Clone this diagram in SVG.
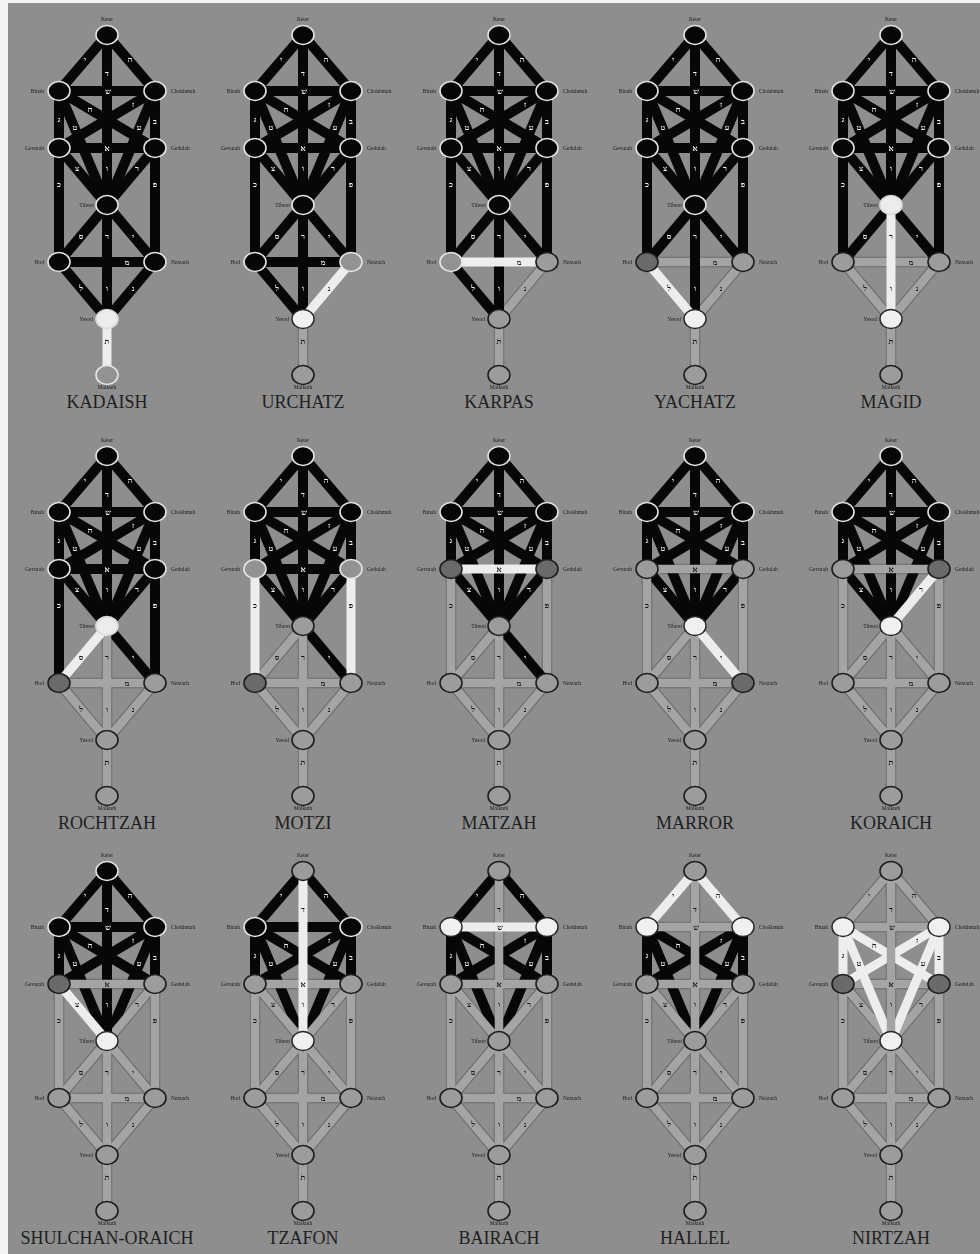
<svg xmlns="http://www.w3.org/2000/svg" xmlns:xlink="http://www.w3.org/1999/xlink" width="980" height="1254" viewBox="0 0 980 1254">
<style>
text{font-family:"Liberation Serif","DejaVu Serif",serif}
.b{stroke:#070707;stroke-width:10}
.w{stroke:#ededed;stroke-width:9}
.g{stroke:#a4a4a4;stroke-width:8.5}
.go{stroke:#6a6a6a;stroke-width:10.5}
.K{fill:#060606;stroke:#e2e2e2;stroke-width:1.6}
.W{fill:#f0f0f0;stroke:#262626;stroke-width:1.4}
.L{fill:#ececec;stroke:#d8d8d8;stroke-width:1.6}
.G{fill:#9c9c9c;stroke:#1e1e1e;stroke-width:1.6}
.D{fill:#6a6a6a;stroke:#1e1e1e;stroke-width:1.6}
.O{fill:#929292;stroke:#e6e6e6;stroke-width:1.6}
.lt{filter:grayscale(1)}
.lt text{font-family:"Liberation Serif","DejaVu Sans",serif;font-size:8px;font-weight:bold;text-anchor:middle;dominant-baseline:central}
.lw{fill:#f2f2f2}
.lb{fill:#141414}
.nl{font-size:5.5px;fill:#1c1c1c;filter:grayscale(1)}
.r{text-anchor:end}
.m{text-anchor:middle}
.ttl{font-size:18px;fill:#1f1f1f;text-anchor:middle}
</style>
<defs>
<line id="p1" x1="0" y1="0" x2="-48" y2="56"/>
<line id="p2" x1="0" y1="0" x2="48" y2="56"/>
<line id="p3" x1="0" y1="0" x2="0" y2="170"/>
<line id="p4" x1="-48" y1="56" x2="48" y2="56"/>
<line id="p5" x1="-48" y1="56" x2="-48" y2="113"/>
<line id="p6" x1="48" y1="56" x2="48" y2="113"/>
<line id="p7" x1="-48" y1="56" x2="48" y2="113"/>
<line id="p8" x1="48" y1="56" x2="-48" y2="113"/>
<line id="p9" x1="-48" y1="56" x2="0" y2="170"/>
<line id="p10" x1="48" y1="56" x2="0" y2="170"/>
<line id="p11" x1="-48" y1="113" x2="48" y2="113"/>
<line id="p12" x1="-48" y1="113" x2="0" y2="170"/>
<line id="p13" x1="48" y1="113" x2="0" y2="170"/>
<line id="p14" x1="-48" y1="113" x2="-48" y2="227"/>
<line id="p15" x1="48" y1="113" x2="48" y2="227"/>
<line id="p16" x1="0" y1="170" x2="-48" y2="227"/>
<line id="p17" x1="0" y1="170" x2="48" y2="227"/>
<line id="p18" x1="0" y1="170" x2="0" y2="284"/>
<line id="p19" x1="-48" y1="227" x2="48" y2="227"/>
<line id="p20" x1="-48" y1="227" x2="0" y2="284"/>
<line id="p21" x1="48" y1="227" x2="0" y2="284"/>
<line id="p22" x1="0" y1="284" x2="0" y2="340"/>
<ellipse id="n" cx="0" cy="0" rx="11" ry="9.5"/>
</defs>
<rect width="980" height="1254" fill="#f4f4f4"/>
<rect x="8" y="3" width="972" height="1251" fill="#8e8e8e"/>

<!-- T1 KADAISH -->
<g id="t1" transform="translate(107,35)">
<g id="t1-paths">
<use href="#p7" class="b"/><use href="#p8" class="b"/><use href="#p9" class="b"/><use href="#p10" class="b"/><use href="#p1" class="b"/><use href="#p2" class="b"/><use href="#p12" class="b"/><use href="#p13" class="b"/><use href="#p5" class="b"/><use href="#p6" class="b"/><use href="#p14" class="b"/><use href="#p15" class="b"/><use href="#p16" class="b"/><use href="#p17" class="b"/><use href="#p20" class="b"/><use href="#p21" class="b"/><use href="#p3" class="b"/><use href="#p4" class="b"/><use href="#p11" class="b"/><use href="#p19" class="b"/><use href="#p18" class="b"/><use href="#p22" class="w"/>
</g>
<g class="lt"><g class="lw"><text x="-22" y="24">י</text><text x="23" y="24">ה</text><text x="0" y="38">ד</text><text x="1" y="56">ש</text><text x="-17" y="74">ח</text><text x="26" y="69">ז</text><text x="-48" y="84">ג</text><text x="-32" y="92">ט</text><text x="32" y="92">ע</text><text x="48" y="86">ב</text><text x="0" y="113">א</text><text x="-30" y="133">צ</text><text x="30" y="133">ר</text><text x="0" y="133">ו</text><text x="-48" y="149">כ</text><text x="48" y="149">פ</text><text x="-26" y="201">ס</text><text x="26" y="201">י</text><text x="0" y="201">ר</text><text x="20" y="227">מ</text><text x="0" y="253">ו</text><text x="-26" y="253">ל</text><text x="26" y="253">נ</text></g><g class="lb"><text x="0" y="306">ת</text></g></g>
<g id="t1-keter"><use href="#n" class="K"/><text class="nl m" y="-14">Keter</text></g>
<g id="t1-binah"><use href="#n" x="-48" y="56" class="K"/><text class="nl r" x="-63" y="58">Binah</text></g>
<g id="t1-chokhmah"><use href="#n" x="48" y="56" class="K"/><text class="nl" x="64" y="58">Chokhmah</text></g>
<g id="t1-gevurah"><use href="#n" x="-48" y="113" class="K"/><text class="nl r" x="-63" y="115">Gevurah</text></g>
<g id="t1-gedulah"><use href="#n" x="48" y="113" class="K"/><text class="nl" x="64" y="115">Gedulah</text></g>
<g id="t1-tiferet"><use href="#n" y="170" class="K"/><text class="nl r" x="-13" y="172">Tiferet</text></g>
<g id="t1-hod"><use href="#n" x="-48" y="227" class="K"/><text class="nl r" x="-63" y="229">Hod</text></g>
<g id="t1-netzach"><use href="#n" x="48" y="227" class="K"/><text class="nl" x="64" y="229">Netzach</text></g>
<g id="t1-yesod"><use href="#n" y="284" class="L"/><text class="nl r" x="-14" y="286">Yesod</text></g>
<g id="t1-malkuth"><use href="#n" y="340" class="O"/><text class="nl m" y="354">Malkuth</text></g>
<text class="ttl" y="373">KADAISH</text>
</g>

<!-- T2 URCHATZ -->
<g id="t2" transform="translate(303,35)">
<g id="t2-paths">
<g class="go"><use href="#p22"/></g>
<use href="#p7" class="b"/><use href="#p8" class="b"/><use href="#p9" class="b"/><use href="#p10" class="b"/><use href="#p1" class="b"/><use href="#p2" class="b"/><use href="#p12" class="b"/><use href="#p13" class="b"/><use href="#p5" class="b"/><use href="#p6" class="b"/><use href="#p14" class="b"/><use href="#p15" class="b"/><use href="#p16" class="b"/><use href="#p17" class="b"/><use href="#p20" class="b"/><use href="#p22" class="g"/><use href="#p3" class="b"/><use href="#p4" class="b"/><use href="#p11" class="b"/><use href="#p19" class="b"/><use href="#p18" class="b"/><use href="#p21" class="w"/>
</g>
<g class="lt"><g class="lw"><text x="-22" y="24">י</text><text x="23" y="24">ה</text><text x="0" y="38">ד</text><text x="1" y="56">ש</text><text x="-17" y="74">ח</text><text x="26" y="69">ז</text><text x="-48" y="84">ג</text><text x="-32" y="92">ט</text><text x="32" y="92">ע</text><text x="48" y="86">ב</text><text x="0" y="113">א</text><text x="-30" y="133">צ</text><text x="30" y="133">ר</text><text x="0" y="133">ו</text><text x="-48" y="149">כ</text><text x="48" y="149">פ</text><text x="-26" y="201">ס</text><text x="26" y="201">י</text><text x="0" y="201">ר</text><text x="20" y="227">מ</text><text x="0" y="253">ו</text><text x="-26" y="253">ל</text></g><g class="lb"><text x="26" y="253">נ</text><text x="0" y="306">ת</text></g></g>
<g id="t2-keter"><use href="#n" class="K"/><text class="nl m" y="-14">Keter</text></g>
<g id="t2-binah"><use href="#n" x="-48" y="56" class="K"/><text class="nl r" x="-63" y="58">Binah</text></g>
<g id="t2-chokhmah"><use href="#n" x="48" y="56" class="K"/><text class="nl" x="64" y="58">Chokhmah</text></g>
<g id="t2-gevurah"><use href="#n" x="-48" y="113" class="K"/><text class="nl r" x="-63" y="115">Gevurah</text></g>
<g id="t2-gedulah"><use href="#n" x="48" y="113" class="K"/><text class="nl" x="64" y="115">Gedulah</text></g>
<g id="t2-tiferet"><use href="#n" y="170" class="K"/><text class="nl r" x="-13" y="172">Tiferet</text></g>
<g id="t2-hod"><use href="#n" x="-48" y="227" class="K"/><text class="nl r" x="-63" y="229">Hod</text></g>
<g id="t2-netzach"><use href="#n" x="48" y="227" class="O"/><text class="nl" x="64" y="229">Netzach</text></g>
<g id="t2-yesod"><use href="#n" y="284" class="W"/><text class="nl r" x="-14" y="286">Yesod</text></g>
<g id="t2-malkuth"><use href="#n" y="340" class="G"/><text class="nl m" y="354">Malkuth</text></g>
<text class="ttl" y="373">URCHATZ</text>
</g>

<!-- T3 KARPAS -->
<g id="t3" transform="translate(499,35)">
<g id="t3-paths">
<g class="go"><use href="#p21"/><use href="#p22"/></g>
<use href="#p7" class="b"/><use href="#p8" class="b"/><use href="#p9" class="b"/><use href="#p10" class="b"/><use href="#p1" class="b"/><use href="#p2" class="b"/><use href="#p12" class="b"/><use href="#p13" class="b"/><use href="#p5" class="b"/><use href="#p6" class="b"/><use href="#p14" class="b"/><use href="#p15" class="b"/><use href="#p16" class="b"/><use href="#p17" class="b"/><use href="#p20" class="b"/><use href="#p21" class="g"/><use href="#p22" class="g"/><use href="#p3" class="b"/><use href="#p4" class="b"/><use href="#p11" class="b"/><use href="#p18" class="b"/><use href="#p19" class="w"/>
</g>
<g class="lt"><g class="lw"><text x="-22" y="24">י</text><text x="23" y="24">ה</text><text x="0" y="38">ד</text><text x="1" y="56">ש</text><text x="-17" y="74">ח</text><text x="26" y="69">ז</text><text x="-48" y="84">ג</text><text x="-32" y="92">ט</text><text x="32" y="92">ע</text><text x="48" y="86">ב</text><text x="0" y="113">א</text><text x="-30" y="133">צ</text><text x="30" y="133">ר</text><text x="0" y="133">ו</text><text x="-48" y="149">כ</text><text x="48" y="149">פ</text><text x="-26" y="201">ס</text><text x="26" y="201">י</text><text x="0" y="201">ר</text><text x="0" y="253">ו</text><text x="-26" y="253">ל</text></g><g class="lb"><text x="20" y="227">מ</text><text x="26" y="253">נ</text><text x="0" y="306">ת</text></g></g>
<g id="t3-keter"><use href="#n" class="K"/><text class="nl m" y="-14">Keter</text></g>
<g id="t3-binah"><use href="#n" x="-48" y="56" class="K"/><text class="nl r" x="-63" y="58">Binah</text></g>
<g id="t3-chokhmah"><use href="#n" x="48" y="56" class="K"/><text class="nl" x="64" y="58">Chokhmah</text></g>
<g id="t3-gevurah"><use href="#n" x="-48" y="113" class="K"/><text class="nl r" x="-63" y="115">Gevurah</text></g>
<g id="t3-gedulah"><use href="#n" x="48" y="113" class="K"/><text class="nl" x="64" y="115">Gedulah</text></g>
<g id="t3-tiferet"><use href="#n" y="170" class="K"/><text class="nl r" x="-13" y="172">Tiferet</text></g>
<g id="t3-hod"><use href="#n" x="-48" y="227" class="O"/><text class="nl r" x="-63" y="229">Hod</text></g>
<g id="t3-netzach"><use href="#n" x="48" y="227" class="G"/><text class="nl" x="64" y="229">Netzach</text></g>
<g id="t3-yesod"><use href="#n" y="284" class="G"/><text class="nl r" x="-14" y="286">Yesod</text></g>
<g id="t3-malkuth"><use href="#n" y="340" class="G"/><text class="nl m" y="354">Malkuth</text></g>
<text class="ttl" y="373">KARPAS</text>
</g>

<!-- T4 YACHATZ -->
<g id="t4" transform="translate(695,35)">
<g id="t4-paths">
<g class="go"><use href="#p19"/><use href="#p21"/><use href="#p22"/></g>
<use href="#p7" class="b"/><use href="#p8" class="b"/><use href="#p9" class="b"/><use href="#p10" class="b"/><use href="#p1" class="b"/><use href="#p2" class="b"/><use href="#p12" class="b"/><use href="#p13" class="b"/><use href="#p5" class="b"/><use href="#p6" class="b"/><use href="#p14" class="b"/><use href="#p15" class="b"/><use href="#p16" class="b"/><use href="#p17" class="b"/><use href="#p21" class="g"/><use href="#p22" class="g"/><use href="#p3" class="b"/><use href="#p4" class="b"/><use href="#p11" class="b"/><use href="#p19" class="g"/><use href="#p18" class="b"/><use href="#p20" class="w"/>
</g>
<g class="lt"><g class="lw"><text x="-22" y="24">י</text><text x="23" y="24">ה</text><text x="0" y="38">ד</text><text x="1" y="56">ש</text><text x="-17" y="74">ח</text><text x="26" y="69">ז</text><text x="-48" y="84">ג</text><text x="-32" y="92">ט</text><text x="32" y="92">ע</text><text x="48" y="86">ב</text><text x="0" y="113">א</text><text x="-30" y="133">צ</text><text x="30" y="133">ר</text><text x="0" y="133">ו</text><text x="-48" y="149">כ</text><text x="48" y="149">פ</text><text x="-26" y="201">ס</text><text x="26" y="201">י</text><text x="0" y="201">ר</text><text x="0" y="253">ו</text></g><g class="lb"><text x="20" y="227">מ</text><text x="-26" y="253">ל</text><text x="26" y="253">נ</text><text x="0" y="306">ת</text></g></g>
<g id="t4-keter"><use href="#n" class="K"/><text class="nl m" y="-14">Keter</text></g>
<g id="t4-binah"><use href="#n" x="-48" y="56" class="K"/><text class="nl r" x="-63" y="58">Binah</text></g>
<g id="t4-chokhmah"><use href="#n" x="48" y="56" class="K"/><text class="nl" x="64" y="58">Chokhmah</text></g>
<g id="t4-gevurah"><use href="#n" x="-48" y="113" class="K"/><text class="nl r" x="-63" y="115">Gevurah</text></g>
<g id="t4-gedulah"><use href="#n" x="48" y="113" class="K"/><text class="nl" x="64" y="115">Gedulah</text></g>
<g id="t4-tiferet"><use href="#n" y="170" class="K"/><text class="nl r" x="-13" y="172">Tiferet</text></g>
<g id="t4-hod"><use href="#n" x="-48" y="227" class="D"/><text class="nl r" x="-63" y="229">Hod</text></g>
<g id="t4-netzach"><use href="#n" x="48" y="227" class="G"/><text class="nl" x="64" y="229">Netzach</text></g>
<g id="t4-yesod"><use href="#n" y="284" class="W"/><text class="nl r" x="-14" y="286">Yesod</text></g>
<g id="t4-malkuth"><use href="#n" y="340" class="G"/><text class="nl m" y="354">Malkuth</text></g>
<text class="ttl" y="373">YACHATZ</text>
</g>

<!-- T5 MAGID -->
<g id="t5" transform="translate(891,35)">
<g id="t5-paths">
<g class="go"><use href="#p19"/><use href="#p20"/><use href="#p21"/><use href="#p22"/></g>
<use href="#p7" class="b"/><use href="#p8" class="b"/><use href="#p9" class="b"/><use href="#p10" class="b"/><use href="#p1" class="b"/><use href="#p2" class="b"/><use href="#p12" class="b"/><use href="#p13" class="b"/><use href="#p5" class="b"/><use href="#p6" class="b"/><use href="#p14" class="b"/><use href="#p15" class="b"/><use href="#p16" class="b"/><use href="#p17" class="b"/><use href="#p20" class="g"/><use href="#p21" class="g"/><use href="#p22" class="g"/><use href="#p3" class="b"/><use href="#p4" class="b"/><use href="#p11" class="b"/><use href="#p19" class="g"/><use href="#p18" class="w"/>
</g>
<g class="lt"><g class="lw"><text x="-22" y="24">י</text><text x="23" y="24">ה</text><text x="0" y="38">ד</text><text x="1" y="56">ש</text><text x="-17" y="74">ח</text><text x="26" y="69">ז</text><text x="-48" y="84">ג</text><text x="-32" y="92">ט</text><text x="32" y="92">ע</text><text x="48" y="86">ב</text><text x="0" y="113">א</text><text x="-30" y="133">צ</text><text x="30" y="133">ר</text><text x="0" y="133">ו</text><text x="-48" y="149">כ</text><text x="48" y="149">פ</text><text x="-26" y="201">ס</text><text x="26" y="201">י</text></g><g class="lb"><text x="0" y="201">ר</text><text x="20" y="227">מ</text><text x="0" y="253">ו</text><text x="-26" y="253">ל</text><text x="26" y="253">נ</text><text x="0" y="306">ת</text></g></g>
<g id="t5-keter"><use href="#n" class="K"/><text class="nl m" y="-14">Keter</text></g>
<g id="t5-binah"><use href="#n" x="-48" y="56" class="K"/><text class="nl r" x="-63" y="58">Binah</text></g>
<g id="t5-chokhmah"><use href="#n" x="48" y="56" class="K"/><text class="nl" x="64" y="58">Chokhmah</text></g>
<g id="t5-gevurah"><use href="#n" x="-48" y="113" class="K"/><text class="nl r" x="-63" y="115">Gevurah</text></g>
<g id="t5-gedulah"><use href="#n" x="48" y="113" class="K"/><text class="nl" x="64" y="115">Gedulah</text></g>
<g id="t5-tiferet"><use href="#n" y="170" class="L"/><text class="nl r" x="-13" y="172">Tiferet</text></g>
<g id="t5-hod"><use href="#n" x="-48" y="227" class="G"/><text class="nl r" x="-63" y="229">Hod</text></g>
<g id="t5-netzach"><use href="#n" x="48" y="227" class="G"/><text class="nl" x="64" y="229">Netzach</text></g>
<g id="t5-yesod"><use href="#n" y="284" class="W"/><text class="nl r" x="-14" y="286">Yesod</text></g>
<g id="t5-malkuth"><use href="#n" y="340" class="G"/><text class="nl m" y="354">Malkuth</text></g>
<text class="ttl" y="373">MAGID</text>
</g>

<!-- T6 ROCHTZAH -->
<g id="t6" transform="translate(107,456)">
<g id="t6-paths">
<g class="go"><use href="#p18"/><use href="#p19"/><use href="#p20"/><use href="#p21"/><use href="#p22"/></g>
<use href="#p7" class="b"/><use href="#p8" class="b"/><use href="#p9" class="b"/><use href="#p10" class="b"/><use href="#p1" class="b"/><use href="#p2" class="b"/><use href="#p12" class="b"/><use href="#p13" class="b"/><use href="#p5" class="b"/><use href="#p6" class="b"/><use href="#p14" class="b"/><use href="#p15" class="b"/><use href="#p17" class="b"/><use href="#p20" class="g"/><use href="#p21" class="g"/><use href="#p22" class="g"/><use href="#p3" class="b"/><use href="#p4" class="b"/><use href="#p11" class="b"/><use href="#p19" class="g"/><use href="#p18" class="g"/><use href="#p16" class="w"/>
</g>
<g class="lt"><g class="lw"><text x="-22" y="24">י</text><text x="23" y="24">ה</text><text x="0" y="38">ד</text><text x="1" y="56">ש</text><text x="-17" y="74">ח</text><text x="26" y="69">ז</text><text x="-48" y="84">ג</text><text x="-32" y="92">ט</text><text x="32" y="92">ע</text><text x="48" y="86">ב</text><text x="0" y="113">א</text><text x="-30" y="133">צ</text><text x="30" y="133">ר</text><text x="0" y="133">ו</text><text x="-48" y="149">כ</text><text x="48" y="149">פ</text><text x="26" y="201">י</text></g><g class="lb"><text x="-26" y="201">ס</text><text x="0" y="201">ר</text><text x="20" y="227">מ</text><text x="0" y="253">ו</text><text x="-26" y="253">ל</text><text x="26" y="253">נ</text><text x="0" y="306">ת</text></g></g>
<g id="t6-keter"><use href="#n" class="K"/><text class="nl m" y="-14">Keter</text></g>
<g id="t6-binah"><use href="#n" x="-48" y="56" class="K"/><text class="nl r" x="-63" y="58">Binah</text></g>
<g id="t6-chokhmah"><use href="#n" x="48" y="56" class="K"/><text class="nl" x="64" y="58">Chokhmah</text></g>
<g id="t6-gevurah"><use href="#n" x="-48" y="113" class="K"/><text class="nl r" x="-63" y="115">Gevurah</text></g>
<g id="t6-gedulah"><use href="#n" x="48" y="113" class="K"/><text class="nl" x="64" y="115">Gedulah</text></g>
<g id="t6-tiferet"><use href="#n" y="170" class="L"/><text class="nl r" x="-13" y="172">Tiferet</text></g>
<g id="t6-hod"><use href="#n" x="-48" y="227" class="D"/><text class="nl r" x="-63" y="229">Hod</text></g>
<g id="t6-netzach"><use href="#n" x="48" y="227" class="G"/><text class="nl" x="64" y="229">Netzach</text></g>
<g id="t6-yesod"><use href="#n" y="284" class="G"/><text class="nl r" x="-14" y="286">Yesod</text></g>
<g id="t6-malkuth"><use href="#n" y="340" class="G"/><text class="nl m" y="354">Malkuth</text></g>
<text class="ttl" y="373">ROCHTZAH</text>
</g>

<!-- T7 MOTZI -->
<g id="t7" transform="translate(303,456)">
<g id="t7-paths">
<g class="go"><use href="#p16"/><use href="#p18"/><use href="#p19"/><use href="#p20"/><use href="#p21"/><use href="#p22"/></g>
<use href="#p7" class="b"/><use href="#p8" class="b"/><use href="#p9" class="b"/><use href="#p10" class="b"/><use href="#p1" class="b"/><use href="#p2" class="b"/><use href="#p12" class="b"/><use href="#p13" class="b"/><use href="#p5" class="b"/><use href="#p6" class="b"/><use href="#p16" class="g"/><use href="#p17" class="b"/><use href="#p20" class="g"/><use href="#p21" class="g"/><use href="#p22" class="g"/><use href="#p3" class="b"/><use href="#p4" class="b"/><use href="#p11" class="b"/><use href="#p19" class="g"/><use href="#p18" class="g"/><use href="#p14" class="w"/><use href="#p15" class="w"/>
</g>
<g class="lt"><g class="lw"><text x="-22" y="24">י</text><text x="23" y="24">ה</text><text x="0" y="38">ד</text><text x="1" y="56">ש</text><text x="-17" y="74">ח</text><text x="26" y="69">ז</text><text x="-48" y="84">ג</text><text x="-32" y="92">ט</text><text x="32" y="92">ע</text><text x="48" y="86">ב</text><text x="0" y="113">א</text><text x="-30" y="133">צ</text><text x="30" y="133">ר</text><text x="0" y="133">ו</text><text x="26" y="201">י</text></g><g class="lb"><text x="-48" y="149">כ</text><text x="48" y="149">פ</text><text x="-26" y="201">ס</text><text x="0" y="201">ר</text><text x="20" y="227">מ</text><text x="0" y="253">ו</text><text x="-26" y="253">ל</text><text x="26" y="253">נ</text><text x="0" y="306">ת</text></g></g>
<g id="t7-keter"><use href="#n" class="K"/><text class="nl m" y="-14">Keter</text></g>
<g id="t7-binah"><use href="#n" x="-48" y="56" class="K"/><text class="nl r" x="-63" y="58">Binah</text></g>
<g id="t7-chokhmah"><use href="#n" x="48" y="56" class="K"/><text class="nl" x="64" y="58">Chokhmah</text></g>
<g id="t7-gevurah"><use href="#n" x="-48" y="113" class="O"/><text class="nl r" x="-63" y="115">Gevurah</text></g>
<g id="t7-gedulah"><use href="#n" x="48" y="113" class="O"/><text class="nl" x="64" y="115">Gedulah</text></g>
<g id="t7-tiferet"><use href="#n" y="170" class="G"/><text class="nl r" x="-13" y="172">Tiferet</text></g>
<g id="t7-hod"><use href="#n" x="-48" y="227" class="D"/><text class="nl r" x="-63" y="229">Hod</text></g>
<g id="t7-netzach"><use href="#n" x="48" y="227" class="G"/><text class="nl" x="64" y="229">Netzach</text></g>
<g id="t7-yesod"><use href="#n" y="284" class="G"/><text class="nl r" x="-14" y="286">Yesod</text></g>
<g id="t7-malkuth"><use href="#n" y="340" class="G"/><text class="nl m" y="354">Malkuth</text></g>
<text class="ttl" y="373">MOTZI</text>
</g>

<!-- T8 MATZAH -->
<g id="t8" transform="translate(499,456)">
<g id="t8-paths">
<g class="go"><use href="#p14"/><use href="#p15"/><use href="#p16"/><use href="#p18"/><use href="#p19"/><use href="#p20"/><use href="#p21"/><use href="#p22"/></g>
<use href="#p7" class="b"/><use href="#p8" class="b"/><use href="#p9" class="b"/><use href="#p10" class="b"/><use href="#p1" class="b"/><use href="#p2" class="b"/><use href="#p12" class="b"/><use href="#p13" class="b"/><use href="#p5" class="b"/><use href="#p6" class="b"/><use href="#p14" class="g"/><use href="#p15" class="g"/><use href="#p16" class="g"/><use href="#p17" class="b"/><use href="#p20" class="g"/><use href="#p21" class="g"/><use href="#p22" class="g"/><use href="#p3" class="b"/><use href="#p4" class="b"/><use href="#p19" class="g"/><use href="#p18" class="g"/><use href="#p11" class="w"/>
</g>
<g class="lt"><g class="lw"><text x="-22" y="24">י</text><text x="23" y="24">ה</text><text x="0" y="38">ד</text><text x="1" y="56">ש</text><text x="-17" y="74">ח</text><text x="26" y="69">ז</text><text x="-48" y="84">ג</text><text x="-32" y="92">ט</text><text x="32" y="92">ע</text><text x="48" y="86">ב</text><text x="-30" y="133">צ</text><text x="30" y="133">ר</text><text x="0" y="133">ו</text><text x="26" y="201">י</text></g><g class="lb"><text x="0" y="113">א</text><text x="-48" y="149">כ</text><text x="48" y="149">פ</text><text x="-26" y="201">ס</text><text x="0" y="201">ר</text><text x="20" y="227">מ</text><text x="0" y="253">ו</text><text x="-26" y="253">ל</text><text x="26" y="253">נ</text><text x="0" y="306">ת</text></g></g>
<g id="t8-keter"><use href="#n" class="K"/><text class="nl m" y="-14">Keter</text></g>
<g id="t8-binah"><use href="#n" x="-48" y="56" class="K"/><text class="nl r" x="-63" y="58">Binah</text></g>
<g id="t8-chokhmah"><use href="#n" x="48" y="56" class="K"/><text class="nl" x="64" y="58">Chokhmah</text></g>
<g id="t8-gevurah"><use href="#n" x="-48" y="113" class="D"/><text class="nl r" x="-63" y="115">Gevurah</text></g>
<g id="t8-gedulah"><use href="#n" x="48" y="113" class="D"/><text class="nl" x="64" y="115">Gedulah</text></g>
<g id="t8-tiferet"><use href="#n" y="170" class="G"/><text class="nl r" x="-13" y="172">Tiferet</text></g>
<g id="t8-hod"><use href="#n" x="-48" y="227" class="G"/><text class="nl r" x="-63" y="229">Hod</text></g>
<g id="t8-netzach"><use href="#n" x="48" y="227" class="G"/><text class="nl" x="64" y="229">Netzach</text></g>
<g id="t8-yesod"><use href="#n" y="284" class="G"/><text class="nl r" x="-14" y="286">Yesod</text></g>
<g id="t8-malkuth"><use href="#n" y="340" class="G"/><text class="nl m" y="354">Malkuth</text></g>
<text class="ttl" y="373">MATZAH</text>
</g>

<!-- T9 MARROR -->
<g id="t9" transform="translate(695,456)">
<g id="t9-paths">
<g class="go"><use href="#p11"/><use href="#p14"/><use href="#p15"/><use href="#p16"/><use href="#p18"/><use href="#p19"/><use href="#p20"/><use href="#p21"/><use href="#p22"/></g>
<use href="#p7" class="b"/><use href="#p8" class="b"/><use href="#p9" class="b"/><use href="#p10" class="b"/><use href="#p1" class="b"/><use href="#p2" class="b"/><use href="#p12" class="b"/><use href="#p13" class="b"/><use href="#p5" class="b"/><use href="#p6" class="b"/><use href="#p14" class="g"/><use href="#p15" class="g"/><use href="#p16" class="g"/><use href="#p20" class="g"/><use href="#p21" class="g"/><use href="#p22" class="g"/><use href="#p3" class="b"/><use href="#p4" class="b"/><use href="#p11" class="g"/><use href="#p19" class="g"/><use href="#p18" class="g"/><use href="#p17" class="w"/>
</g>
<g class="lt"><g class="lw"><text x="-22" y="24">י</text><text x="23" y="24">ה</text><text x="0" y="38">ד</text><text x="1" y="56">ש</text><text x="-17" y="74">ח</text><text x="26" y="69">ז</text><text x="-48" y="84">ג</text><text x="-32" y="92">ט</text><text x="32" y="92">ע</text><text x="48" y="86">ב</text><text x="-30" y="133">צ</text><text x="30" y="133">ר</text><text x="0" y="133">ו</text></g><g class="lb"><text x="0" y="113">א</text><text x="-48" y="149">כ</text><text x="48" y="149">פ</text><text x="-26" y="201">ס</text><text x="26" y="201">י</text><text x="0" y="201">ר</text><text x="20" y="227">מ</text><text x="0" y="253">ו</text><text x="-26" y="253">ל</text><text x="26" y="253">נ</text><text x="0" y="306">ת</text></g></g>
<g id="t9-keter"><use href="#n" class="K"/><text class="nl m" y="-14">Keter</text></g>
<g id="t9-binah"><use href="#n" x="-48" y="56" class="K"/><text class="nl r" x="-63" y="58">Binah</text></g>
<g id="t9-chokhmah"><use href="#n" x="48" y="56" class="K"/><text class="nl" x="64" y="58">Chokhmah</text></g>
<g id="t9-gevurah"><use href="#n" x="-48" y="113" class="G"/><text class="nl r" x="-63" y="115">Gevurah</text></g>
<g id="t9-gedulah"><use href="#n" x="48" y="113" class="G"/><text class="nl" x="64" y="115">Gedulah</text></g>
<g id="t9-tiferet"><use href="#n" y="170" class="W"/><text class="nl r" x="-13" y="172">Tiferet</text></g>
<g id="t9-hod"><use href="#n" x="-48" y="227" class="G"/><text class="nl r" x="-63" y="229">Hod</text></g>
<g id="t9-netzach"><use href="#n" x="48" y="227" class="D"/><text class="nl" x="64" y="229">Netzach</text></g>
<g id="t9-yesod"><use href="#n" y="284" class="G"/><text class="nl r" x="-14" y="286">Yesod</text></g>
<g id="t9-malkuth"><use href="#n" y="340" class="G"/><text class="nl m" y="354">Malkuth</text></g>
<text class="ttl" y="373">MARROR</text>
</g>

<!-- T10 KORAICH -->
<g id="t10" transform="translate(891,456)">
<g id="t10-paths">
<g class="go"><use href="#p11"/><use href="#p14"/><use href="#p15"/><use href="#p16"/><use href="#p17"/><use href="#p18"/><use href="#p19"/><use href="#p20"/><use href="#p21"/><use href="#p22"/></g>
<use href="#p7" class="b"/><use href="#p8" class="b"/><use href="#p9" class="b"/><use href="#p10" class="b"/><use href="#p1" class="b"/><use href="#p2" class="b"/><use href="#p12" class="b"/><use href="#p5" class="b"/><use href="#p6" class="b"/><use href="#p14" class="g"/><use href="#p15" class="g"/><use href="#p16" class="g"/><use href="#p17" class="g"/><use href="#p20" class="g"/><use href="#p21" class="g"/><use href="#p22" class="g"/><use href="#p3" class="b"/><use href="#p4" class="b"/><use href="#p11" class="g"/><use href="#p19" class="g"/><use href="#p18" class="g"/><use href="#p13" class="w"/>
</g>
<g class="lt"><g class="lw"><text x="-22" y="24">י</text><text x="23" y="24">ה</text><text x="0" y="38">ד</text><text x="1" y="56">ש</text><text x="-17" y="74">ח</text><text x="26" y="69">ז</text><text x="-48" y="84">ג</text><text x="-32" y="92">ט</text><text x="32" y="92">ע</text><text x="48" y="86">ב</text><text x="-30" y="133">צ</text><text x="0" y="133">ו</text></g><g class="lb"><text x="0" y="113">א</text><text x="30" y="133">ר</text><text x="-48" y="149">כ</text><text x="48" y="149">פ</text><text x="-26" y="201">ס</text><text x="26" y="201">י</text><text x="0" y="201">ר</text><text x="20" y="227">מ</text><text x="0" y="253">ו</text><text x="-26" y="253">ל</text><text x="26" y="253">נ</text><text x="0" y="306">ת</text></g></g>
<g id="t10-keter"><use href="#n" class="K"/><text class="nl m" y="-14">Keter</text></g>
<g id="t10-binah"><use href="#n" x="-48" y="56" class="K"/><text class="nl r" x="-63" y="58">Binah</text></g>
<g id="t10-chokhmah"><use href="#n" x="48" y="56" class="K"/><text class="nl" x="64" y="58">Chokhmah</text></g>
<g id="t10-gevurah"><use href="#n" x="-48" y="113" class="G"/><text class="nl r" x="-63" y="115">Gevurah</text></g>
<g id="t10-gedulah"><use href="#n" x="48" y="113" class="D"/><text class="nl" x="64" y="115">Gedulah</text></g>
<g id="t10-tiferet"><use href="#n" y="170" class="W"/><text class="nl r" x="-13" y="172">Tiferet</text></g>
<g id="t10-hod"><use href="#n" x="-48" y="227" class="G"/><text class="nl r" x="-63" y="229">Hod</text></g>
<g id="t10-netzach"><use href="#n" x="48" y="227" class="G"/><text class="nl" x="64" y="229">Netzach</text></g>
<g id="t10-yesod"><use href="#n" y="284" class="G"/><text class="nl r" x="-14" y="286">Yesod</text></g>
<g id="t10-malkuth"><use href="#n" y="340" class="G"/><text class="nl m" y="354">Malkuth</text></g>
<text class="ttl" y="373">KORAICH</text>
</g>

<!-- T11 SHULCHAN-ORAICH -->
<g id="t11" transform="translate(107,871)">
<g id="t11-paths">
<g class="go"><use href="#p11"/><use href="#p13"/><use href="#p14"/><use href="#p15"/><use href="#p16"/><use href="#p17"/><use href="#p18"/><use href="#p19"/><use href="#p20"/><use href="#p21"/><use href="#p22"/></g>
<use href="#p7" class="b"/><use href="#p8" class="b"/><use href="#p9" class="b"/><use href="#p10" class="b"/><use href="#p1" class="b"/><use href="#p2" class="b"/><use href="#p13" class="g"/><use href="#p5" class="b"/><use href="#p6" class="b"/><use href="#p14" class="g"/><use href="#p15" class="g"/><use href="#p16" class="g"/><use href="#p17" class="g"/><use href="#p20" class="g"/><use href="#p21" class="g"/><use href="#p22" class="g"/><use href="#p3" class="b"/><use href="#p4" class="b"/><use href="#p11" class="g"/><use href="#p19" class="g"/><use href="#p18" class="g"/><use href="#p12" class="w"/>
</g>
<g class="lt"><g class="lw"><text x="-22" y="24">י</text><text x="23" y="24">ה</text><text x="0" y="38">ד</text><text x="1" y="56">ש</text><text x="-17" y="74">ח</text><text x="26" y="69">ז</text><text x="-48" y="84">ג</text><text x="-32" y="92">ט</text><text x="32" y="92">ע</text><text x="48" y="86">ב</text><text x="0" y="133">ו</text></g><g class="lb"><text x="0" y="113">א</text><text x="-30" y="133">צ</text><text x="30" y="133">ר</text><text x="-48" y="149">כ</text><text x="48" y="149">פ</text><text x="-26" y="201">ס</text><text x="26" y="201">י</text><text x="0" y="201">ר</text><text x="20" y="227">מ</text><text x="0" y="253">ו</text><text x="-26" y="253">ל</text><text x="26" y="253">נ</text><text x="0" y="306">ת</text></g></g>
<g id="t11-keter"><use href="#n" class="K"/><text class="nl m" y="-14">Keter</text></g>
<g id="t11-binah"><use href="#n" x="-48" y="56" class="K"/><text class="nl r" x="-63" y="58">Binah</text></g>
<g id="t11-chokhmah"><use href="#n" x="48" y="56" class="K"/><text class="nl" x="64" y="58">Chokhmah</text></g>
<g id="t11-gevurah"><use href="#n" x="-48" y="113" class="D"/><text class="nl r" x="-63" y="115">Gevurah</text></g>
<g id="t11-gedulah"><use href="#n" x="48" y="113" class="G"/><text class="nl" x="64" y="115">Gedulah</text></g>
<g id="t11-tiferet"><use href="#n" y="170" class="W"/><text class="nl r" x="-13" y="172">Tiferet</text></g>
<g id="t11-hod"><use href="#n" x="-48" y="227" class="G"/><text class="nl r" x="-63" y="229">Hod</text></g>
<g id="t11-netzach"><use href="#n" x="48" y="227" class="G"/><text class="nl" x="64" y="229">Netzach</text></g>
<g id="t11-yesod"><use href="#n" y="284" class="G"/><text class="nl r" x="-14" y="286">Yesod</text></g>
<g id="t11-malkuth"><use href="#n" y="340" class="G"/><text class="nl m" y="354">Malkuth</text></g>
<text class="ttl" y="373">SHULCHAN-ORAICH</text>
</g>

<!-- T12 TZAFON -->
<g id="t12" transform="translate(303,871)">
<g id="t12-paths">
<g class="go"><use href="#p11"/><use href="#p12"/><use href="#p13"/><use href="#p14"/><use href="#p15"/><use href="#p16"/><use href="#p17"/><use href="#p18"/><use href="#p19"/><use href="#p20"/><use href="#p21"/><use href="#p22"/></g>
<use href="#p7" class="b"/><use href="#p8" class="b"/><use href="#p9" class="b"/><use href="#p10" class="b"/><use href="#p1" class="b"/><use href="#p2" class="b"/><use href="#p12" class="g"/><use href="#p13" class="g"/><use href="#p5" class="b"/><use href="#p6" class="b"/><use href="#p14" class="g"/><use href="#p15" class="g"/><use href="#p16" class="g"/><use href="#p17" class="g"/><use href="#p20" class="g"/><use href="#p21" class="g"/><use href="#p22" class="g"/><use href="#p4" class="b"/><use href="#p11" class="g"/><use href="#p19" class="g"/><use href="#p18" class="g"/><use href="#p3" class="w"/>
</g>
<g class="lt"><g class="lw"><text x="-22" y="24">י</text><text x="23" y="24">ה</text><text x="1" y="56">ש</text><text x="-17" y="74">ח</text><text x="26" y="69">ז</text><text x="-48" y="84">ג</text><text x="-32" y="92">ט</text><text x="32" y="92">ע</text><text x="48" y="86">ב</text></g><g class="lb"><text x="0" y="38">ד</text><text x="0" y="113">א</text><text x="-30" y="133">צ</text><text x="30" y="133">ר</text><text x="0" y="133">ו</text><text x="-48" y="149">כ</text><text x="48" y="149">פ</text><text x="-26" y="201">ס</text><text x="26" y="201">י</text><text x="0" y="201">ר</text><text x="20" y="227">מ</text><text x="0" y="253">ו</text><text x="-26" y="253">ל</text><text x="26" y="253">נ</text><text x="0" y="306">ת</text></g></g>
<g id="t12-keter"><use href="#n" class="G"/><text class="nl m" y="-14">Keter</text></g>
<g id="t12-binah"><use href="#n" x="-48" y="56" class="K"/><text class="nl r" x="-63" y="58">Binah</text></g>
<g id="t12-chokhmah"><use href="#n" x="48" y="56" class="K"/><text class="nl" x="64" y="58">Chokhmah</text></g>
<g id="t12-gevurah"><use href="#n" x="-48" y="113" class="G"/><text class="nl r" x="-63" y="115">Gevurah</text></g>
<g id="t12-gedulah"><use href="#n" x="48" y="113" class="G"/><text class="nl" x="64" y="115">Gedulah</text></g>
<g id="t12-tiferet"><use href="#n" y="170" class="W"/><text class="nl r" x="-13" y="172">Tiferet</text></g>
<g id="t12-hod"><use href="#n" x="-48" y="227" class="G"/><text class="nl r" x="-63" y="229">Hod</text></g>
<g id="t12-netzach"><use href="#n" x="48" y="227" class="G"/><text class="nl" x="64" y="229">Netzach</text></g>
<g id="t12-yesod"><use href="#n" y="284" class="G"/><text class="nl r" x="-14" y="286">Yesod</text></g>
<g id="t12-malkuth"><use href="#n" y="340" class="G"/><text class="nl m" y="354">Malkuth</text></g>
<text class="ttl" y="373">TZAFON</text>
</g>

<!-- T13 BAIRACH -->
<g id="t13" transform="translate(499,871)">
<g id="t13-paths">
<g class="go"><use href="#p3"/><use href="#p11"/><use href="#p12"/><use href="#p13"/><use href="#p14"/><use href="#p15"/><use href="#p16"/><use href="#p17"/><use href="#p18"/><use href="#p19"/><use href="#p20"/><use href="#p21"/><use href="#p22"/></g>
<use href="#p7" class="b"/><use href="#p8" class="b"/><use href="#p9" class="b"/><use href="#p10" class="b"/><use href="#p1" class="b"/><use href="#p2" class="b"/><use href="#p12" class="g"/><use href="#p13" class="g"/><use href="#p5" class="b"/><use href="#p6" class="b"/><use href="#p14" class="g"/><use href="#p15" class="g"/><use href="#p16" class="g"/><use href="#p17" class="g"/><use href="#p20" class="g"/><use href="#p21" class="g"/><use href="#p22" class="g"/><use href="#p3" class="g"/><use href="#p11" class="g"/><use href="#p19" class="g"/><use href="#p18" class="g"/><use href="#p4" class="w"/>
</g>
<g class="lt"><g class="lw"><text x="-22" y="24">י</text><text x="23" y="24">ה</text><text x="-17" y="74">ח</text><text x="26" y="69">ז</text><text x="-48" y="84">ג</text><text x="-32" y="92">ט</text><text x="32" y="92">ע</text><text x="48" y="86">ב</text></g><g class="lb"><text x="0" y="38">ד</text><text x="1" y="56">ש</text><text x="0" y="113">א</text><text x="-30" y="133">צ</text><text x="30" y="133">ר</text><text x="0" y="133">ו</text><text x="-48" y="149">כ</text><text x="48" y="149">פ</text><text x="-26" y="201">ס</text><text x="26" y="201">י</text><text x="0" y="201">ר</text><text x="20" y="227">מ</text><text x="0" y="253">ו</text><text x="-26" y="253">ל</text><text x="26" y="253">נ</text><text x="0" y="306">ת</text></g></g>
<g id="t13-keter"><use href="#n" class="G"/><text class="nl m" y="-14">Keter</text></g>
<g id="t13-binah"><use href="#n" x="-48" y="56" class="W"/><text class="nl r" x="-63" y="58">Binah</text></g>
<g id="t13-chokhmah"><use href="#n" x="48" y="56" class="W"/><text class="nl" x="64" y="58">Chokhmah</text></g>
<g id="t13-gevurah"><use href="#n" x="-48" y="113" class="G"/><text class="nl r" x="-63" y="115">Gevurah</text></g>
<g id="t13-gedulah"><use href="#n" x="48" y="113" class="G"/><text class="nl" x="64" y="115">Gedulah</text></g>
<g id="t13-tiferet"><use href="#n" y="170" class="G"/><text class="nl r" x="-13" y="172">Tiferet</text></g>
<g id="t13-hod"><use href="#n" x="-48" y="227" class="G"/><text class="nl r" x="-63" y="229">Hod</text></g>
<g id="t13-netzach"><use href="#n" x="48" y="227" class="G"/><text class="nl" x="64" y="229">Netzach</text></g>
<g id="t13-yesod"><use href="#n" y="284" class="G"/><text class="nl r" x="-14" y="286">Yesod</text></g>
<g id="t13-malkuth"><use href="#n" y="340" class="G"/><text class="nl m" y="354">Malkuth</text></g>
<text class="ttl" y="373">BAIRACH</text>
</g>

<!-- T14 HALLEL -->
<g id="t14" transform="translate(695,871)">
<g id="t14-paths">
<g class="go"><use href="#p3"/><use href="#p4"/><use href="#p11"/><use href="#p12"/><use href="#p13"/><use href="#p14"/><use href="#p15"/><use href="#p16"/><use href="#p17"/><use href="#p18"/><use href="#p19"/><use href="#p20"/><use href="#p21"/><use href="#p22"/></g>
<use href="#p7" class="b"/><use href="#p8" class="b"/><use href="#p9" class="b"/><use href="#p10" class="b"/><use href="#p12" class="g"/><use href="#p13" class="g"/><use href="#p5" class="b"/><use href="#p6" class="b"/><use href="#p14" class="g"/><use href="#p15" class="g"/><use href="#p16" class="g"/><use href="#p17" class="g"/><use href="#p20" class="g"/><use href="#p21" class="g"/><use href="#p22" class="g"/><use href="#p3" class="g"/><use href="#p4" class="g"/><use href="#p11" class="g"/><use href="#p19" class="g"/><use href="#p18" class="g"/><use href="#p1" class="w"/><use href="#p2" class="w"/>
</g>
<g class="lt"><g class="lw"><text x="-17" y="74">ח</text><text x="26" y="69">ז</text><text x="-48" y="84">ג</text><text x="-32" y="92">ט</text><text x="32" y="92">ע</text><text x="48" y="86">ב</text></g><g class="lb"><text x="-22" y="24">י</text><text x="23" y="24">ה</text><text x="0" y="38">ד</text><text x="1" y="56">ש</text><text x="0" y="113">א</text><text x="-30" y="133">צ</text><text x="30" y="133">ר</text><text x="0" y="133">ו</text><text x="-48" y="149">כ</text><text x="48" y="149">פ</text><text x="-26" y="201">ס</text><text x="26" y="201">י</text><text x="0" y="201">ר</text><text x="20" y="227">מ</text><text x="0" y="253">ו</text><text x="-26" y="253">ל</text><text x="26" y="253">נ</text><text x="0" y="306">ת</text></g></g>
<g id="t14-keter"><use href="#n" class="G"/><text class="nl m" y="-14">Keter</text></g>
<g id="t14-binah"><use href="#n" x="-48" y="56" class="W"/><text class="nl r" x="-63" y="58">Binah</text></g>
<g id="t14-chokhmah"><use href="#n" x="48" y="56" class="W"/><text class="nl" x="64" y="58">Chokhmah</text></g>
<g id="t14-gevurah"><use href="#n" x="-48" y="113" class="G"/><text class="nl r" x="-63" y="115">Gevurah</text></g>
<g id="t14-gedulah"><use href="#n" x="48" y="113" class="G"/><text class="nl" x="64" y="115">Gedulah</text></g>
<g id="t14-tiferet"><use href="#n" y="170" class="G"/><text class="nl r" x="-13" y="172">Tiferet</text></g>
<g id="t14-hod"><use href="#n" x="-48" y="227" class="G"/><text class="nl r" x="-63" y="229">Hod</text></g>
<g id="t14-netzach"><use href="#n" x="48" y="227" class="G"/><text class="nl" x="64" y="229">Netzach</text></g>
<g id="t14-yesod"><use href="#n" y="284" class="G"/><text class="nl r" x="-14" y="286">Yesod</text></g>
<g id="t14-malkuth"><use href="#n" y="340" class="G"/><text class="nl m" y="354">Malkuth</text></g>
<text class="ttl" y="373">HALLEL</text>
</g>

<!-- T15 NIRTZAH -->
<g id="t15" transform="translate(891,871)">
<g id="t15-paths">
<g class="go"><use href="#p1"/><use href="#p2"/><use href="#p3"/><use href="#p4"/><use href="#p11"/><use href="#p12"/><use href="#p13"/><use href="#p14"/><use href="#p15"/><use href="#p16"/><use href="#p17"/><use href="#p18"/><use href="#p19"/><use href="#p20"/><use href="#p21"/><use href="#p22"/></g>
<use href="#p1" class="g"/><use href="#p2" class="g"/><use href="#p12" class="g"/><use href="#p13" class="g"/><use href="#p14" class="g"/><use href="#p15" class="g"/><use href="#p16" class="g"/><use href="#p17" class="g"/><use href="#p20" class="g"/><use href="#p21" class="g"/><use href="#p22" class="g"/><use href="#p4" class="g"/><use href="#p11" class="g"/><use href="#p19" class="g"/><use href="#p18" class="g"/><use href="#p7" class="w"/><use href="#p8" class="w"/><use href="#p9" class="w"/><use href="#p10" class="w"/><use href="#p5" class="w"/><use href="#p6" class="w"/><use href="#p3" class="g"/>
</g>
<g class="lt"><g class="lb"><text x="-22" y="24">י</text><text x="23" y="24">ה</text><text x="0" y="38">ד</text><text x="1" y="56">ש</text><text x="-17" y="74">ח</text><text x="26" y="69">ז</text><text x="-48" y="84">ג</text><text x="-32" y="92">ט</text><text x="32" y="92">ע</text><text x="48" y="86">ב</text><text x="0" y="113">א</text><text x="-30" y="133">צ</text><text x="30" y="133">ר</text><text x="0" y="133">ו</text><text x="-48" y="149">כ</text><text x="48" y="149">פ</text><text x="-26" y="201">ס</text><text x="26" y="201">י</text><text x="0" y="201">ר</text><text x="20" y="227">מ</text><text x="0" y="253">ו</text><text x="-26" y="253">ל</text><text x="26" y="253">נ</text><text x="0" y="306">ת</text></g></g>
<g id="t15-keter"><use href="#n" class="G"/><text class="nl m" y="-14">Keter</text></g>
<g id="t15-binah"><use href="#n" x="-48" y="56" class="W"/><text class="nl r" x="-63" y="58">Binah</text></g>
<g id="t15-chokhmah"><use href="#n" x="48" y="56" class="W"/><text class="nl" x="64" y="58">Chokhmah</text></g>
<g id="t15-gevurah"><use href="#n" x="-48" y="113" class="D"/><text class="nl r" x="-63" y="115">Gevurah</text></g>
<g id="t15-gedulah"><use href="#n" x="48" y="113" class="D"/><text class="nl" x="64" y="115">Gedulah</text></g>
<g id="t15-tiferet"><use href="#n" y="170" class="W"/><text class="nl r" x="-13" y="172">Tiferet</text></g>
<g id="t15-hod"><use href="#n" x="-48" y="227" class="G"/><text class="nl r" x="-63" y="229">Hod</text></g>
<g id="t15-netzach"><use href="#n" x="48" y="227" class="G"/><text class="nl" x="64" y="229">Netzach</text></g>
<g id="t15-yesod"><use href="#n" y="284" class="G"/><text class="nl r" x="-14" y="286">Yesod</text></g>
<g id="t15-malkuth"><use href="#n" y="340" class="G"/><text class="nl m" y="354">Malkuth</text></g>
<text class="ttl" y="373">NIRTZAH</text>
</g>
</svg>
